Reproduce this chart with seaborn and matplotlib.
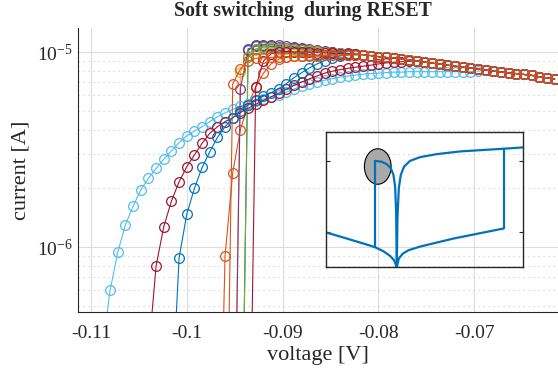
import numpy as np
import pandas as pd
import matplotlib
matplotlib.use("Agg")
import matplotlib.pyplot as plt
from matplotlib.patches import Ellipse
from matplotlib.ticker import LogLocator, NullFormatter
import seaborn as sns

# voltage sweep [V], shared by all curves (index 0 is the first point below the axis)
voltage = [-0.1088, -0.1080, -0.1072, -0.1064, -0.1056, -0.1048, -0.1040, -0.1032, -0.1024, -0.1016,
           -0.1008, -0.1000, -0.0992, -0.0984, -0.0976, -0.0968, -0.0960, -0.0952, -0.0944, -0.0936,
           -0.0928, -0.0920, -0.0912, -0.0904, -0.0896, -0.0888, -0.0880, -0.0872, -0.0864, -0.0856,
           -0.0848, -0.0840, -0.0832, -0.0824, -0.0816, -0.0808, -0.0800, -0.0792, -0.0784, -0.0776,
           -0.0768, -0.0760, -0.0752, -0.0744, -0.0736, -0.0728, -0.0720, -0.0712, -0.0704, -0.0696,
           -0.0688, -0.0680, -0.0672, -0.0664, -0.0656, -0.0648, -0.0640, -0.0632, -0.0624, -0.0616]

# common tail in uA (from -0.0832 V on)
envelope = [9.71, 9.60, 9.48, 9.39, 9.32, 9.25, 9.12, 9.00, 8.89, 8.78, 8.68, 8.57, 8.47,
            8.37, 8.28, 8.18, 8.09, 7.99, 7.91, 7.83, 7.76, 7.68, 7.60, 7.48, 7.38, 7.27]

# soft curves [uA]
light_blue = [0.30, 0.60, 0.94, 1.30, 1.62, 1.96, 2.25, 2.53, 2.82, 3.12, 3.43, 3.72, 3.94, 4.14,
              4.40, 4.66, 4.88, 5.08, 5.28, 5.45, 5.60, 5.74, 5.88, 6.06, 6.24, 6.46, 6.69, 6.85,
              7.02, 7.18, 7.31, 7.44, 7.53, 7.62, 7.71, 7.76, 7.80, 7.85, 7.89, 7.89, 7.94, 7.94,
              7.94, 7.94, 7.94, 7.94, 7.94, 7.94, 7.94, 8.00, 8.05]
dark_red = [0.28, 0.80, 1.27, 1.72, 2.16, 2.58, 2.97, 3.40, 3.83, 4.14, 4.40, 4.60, 4.90, 5.15,
            5.40, 5.65, 5.90, 6.15, 6.45, 6.75, 7.02, 7.30, 7.55, 7.80, 7.99, 8.13, 8.25, 8.37,
            8.47, 8.57, 8.70, 8.80, 8.87, 8.93, 8.97, 9.00]
blue_soft = [0.14, 0.88, 1.47, 2.00, 2.56, 3.08, 3.65, 4.14, 4.60, 5.00, 5.35, 5.65, 5.95, 6.20,
             6.50, 6.90, 7.40, 7.85, 8.30, 8.70, 9.05, 9.35, 9.55, 9.68, 9.72]

# abrupt curves [uA]
blue_abrupt = [0.02, 10.4, 10.7, 10.75, 10.7, 10.65, 10.55, 10.45, 10.35, 10.25, 10.15, 10.05,
               9.97, 9.88, 9.80, 9.74]
orange_a = [0.02, 0.90, 2.41, 4.00, 5.35, 6.64, 7.78, 8.70, 9.20, 9.45, 9.55, 9.60, 9.62, 9.64,
            9.66, 9.67, 9.68, 9.69, 9.70]
yellow = [0.02, 7.90, 9.60, 10.2, 10.4, 10.45, 10.4, 10.35, 10.3, 10.2, 10.15, 10.08, 10.0,
          9.93, 9.86, 9.80, 9.75]
purple = [0.02, 6.50, 10.2, 10.85, 10.9, 10.9, 10.85, 10.75, 10.65, 10.5, 10.4, 10.28, 10.15,
          10.05, 9.95, 9.85, 9.77]
green = [0.02, 9.40, 10.4, 10.6, 10.6, 10.55, 10.5, 10.4, 10.3, 10.2, 10.1, 10.02, 9.95, 9.87,
         9.80, 9.74]
dark_red_a = [0.02, 6.60, 9.00, 9.80, 10.0, 10.05, 10.05, 10.0, 9.98, 9.95, 9.90, 9.87, 9.83,
              9.80, 9.76]
orange_b = [0.02, 6.90, 8.20, 9.00, 9.30, 9.35, 9.40, 9.42, 9.45, 9.50, 9.53, 9.56, 9.60, 9.62,
            9.65, 9.67, 9.69, 9.70]

# (name, colour, index of first value in the voltage list, head values), drawn in this order
curves = [
    ("blue_abrupt", "#0072BD", 18, blue_abrupt),
    ("orange_a", "#D95319", 15, orange_a),
    ("yellow", "#EDB120", 17, yellow),
    ("purple", "#7E2F8E", 17, purple),
    ("green", "#77AC30", 18, green),
    ("light_blue", "#4DBEEE", 0, light_blue),
    ("dark_red", "#A2142F", 6, dark_red),
    ("blue_soft", "#0072BD", 9, blue_soft),
    ("dark_red_a", "#A2142F", 19, dark_red_a),
    ("orange_b", "#D95319", 16, orange_b),
]
ENVELOPE_START = 34  # voltage-list index of envelope[0]

x_ticks = [-0.11, -0.10, -0.09, -0.08, -0.07]
x_tick_labels = ["-0.11", "-0.1", "-0.09", "-0.08", "-0.07"]

# inset sketch (schematic units)
inset_branches = [
    ([18, 60, 100, 140, 165, 190, 210, 222, 230], [322, 334, 346, 358, 366, 378, 392, 405, 425]),
    ([165, 165], [366, 108]),
    ([165, 185, 200, 212, 220, 225, 228, 230], [108, 111, 118, 130, 150, 185, 260, 425]),
    ([230, 232, 236, 242, 252, 270, 300, 350, 420, 500, 550, 608],
     [425, 280, 190, 150, 125, 108, 97, 88, 80, 75, 72, 68]),
    ([230, 236, 248, 265, 300, 350, 400, 450, 500, 550], [425, 400, 385, 375, 364, 352, 340, 330, 320, 310]),
    ([550, 550], [310, 72]),
]

sns.set_style("white")
plt.rcParams["font.family"] = ["Liberation Serif", "DejaVu Serif"]
plt.rcParams["mathtext.fontset"] = "custom"
plt.rcParams["mathtext.rm"] = "Liberation Serif"
plt.rcParams["axes.unicode_minus"] = False

fig = plt.figure(figsize=(5.58, 3.81), dpi=100)
ax = fig.add_axes([78 / 558, 1 - 312 / 381, 480 / 558, 284 / 381])

for name, col, first, head in curves:
    tail_from = first + len(head) - ENVELOPE_START
    vals = list(head) + envelope[tail_from:]
    v = voltage[first:first + len(vals)]
    df = pd.DataFrame({"V": v, "I": np.array(vals) * 1e-6})
    sns.lineplot(data=df, x="V", y="I", ax=ax, color=col, marker="o", markersize=7,
                 mfc="none", mec=col, mew=0.9, lw=0.8, estimator=None, sort=False)

ax.set_yscale("log")
ax.set_xlim(-0.11135, -0.06125)
ax.set_ylim(4.64e-7, 1.33e-5)
ax.set_xticks(x_ticks)
ax.set_xticklabels(x_tick_labels)
ax.yaxis.set_minor_locator(LogLocator(base=10, subs=np.arange(2, 10)))
ax.yaxis.set_minor_formatter(NullFormatter())

ax.grid(which="major", color="#dcdcdc", lw=0.8, ls="-")
ax.grid(which="minor", axis="y", color="#c8c8c8", lw=0.8, ls=(0, (1, 3.5)))
ax.set_axisbelow(True)
for s in ["top", "right"]:
    ax.spines[s].set_visible(False)
for s in ["left", "bottom"]:
    ax.spines[s].set_color("#262626")
    ax.spines[s].set_linewidth(0.8)
ax.tick_params(which="both", direction="in", colors="#262626", labelsize=14)
ax.tick_params(which="major", length=4, width=0.8)
ax.tick_params(which="minor", length=2.5, width=0.6)
ax.tick_params(axis="x", pad=9)

ax.set_xlabel("voltage [V]", fontsize=16, labelpad=3)
ax.set_ylabel("current [A]", fontsize=16, labelpad=5)
fig.text(303 / 558, 1 - 11 / 381, "Soft switching  during RESET", ha="center", va="center",
         fontsize=14.3, fontweight="bold")

# inset
ins = fig.add_axes([326 / 558, 1 - 267 / 381, 197 / 558, 135 / 381])
ins.set_facecolor("none")
ins.add_patch(Ellipse((173, 125), 80, 106, facecolor="#a9a9a9", edgecolor="black", lw=0.8, zorder=1))
for bx, by in inset_branches:
    sns.lineplot(x=bx, y=by, ax=ins, color="#0072BD", lw=1.6, estimator=None, sort=False, zorder=2)
ins.set_xlim(18, 608)
ins.set_ylim(425, 22)
ins.set_xticks([])
ins.set_yticks([110, 322])
ins.tick_params(axis="y", direction="in", length=3, width=0.8, left=True, right=True,
                labelleft=False, colors="#262626")
for s in ins.spines.values():
    s.set_visible(True)
    s.set_color("#262626")
    s.set_linewidth(1.0)
ins.set_xlabel("")
ins.set_ylabel("")

fig.savefig("out.png", dpi=100)
